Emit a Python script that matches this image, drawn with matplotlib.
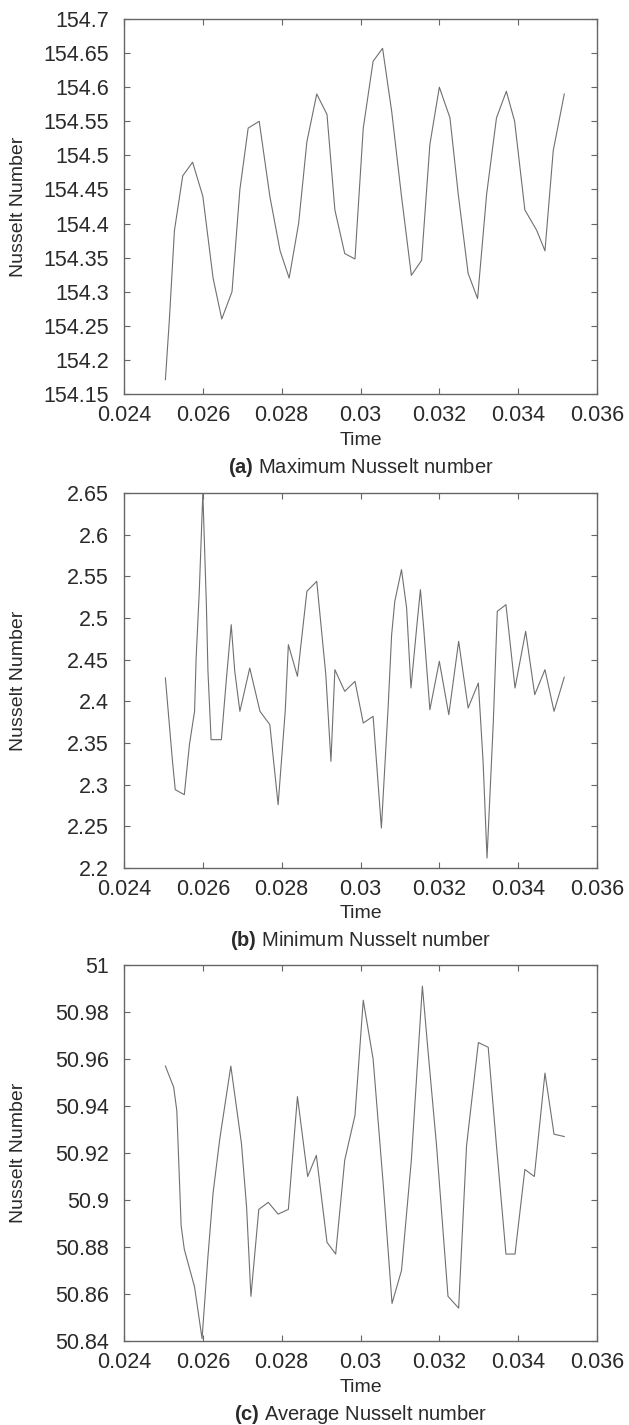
import matplotlib
matplotlib.use('Agg')
import matplotlib.pyplot as plt
from matplotlib.ticker import FuncFormatter, MultipleLocator

plt.rcParams['font.family'] = ['Liberation Sans', 'DejaVu Sans']
plt.rcParams['mathtext.fontset'] = 'custom'
plt.rcParams['mathtext.bf'] = 'Liberation Sans:bold'
plt.rcParams['mathtext.rm'] = 'Liberation Sans'

# (a) maximum Nusselt number
t_max = [0.02505, 0.02515, 0.02528, 0.02549, 0.02574, 0.02600, 0.02626, 0.02648,
         0.02674, 0.02694, 0.02715, 0.02743, 0.02770, 0.02796, 0.02819, 0.02843,
         0.02864, 0.02889, 0.02915, 0.02935, 0.02960, 0.02986, 0.03007, 0.03032,
         0.03056, 0.03079, 0.03104, 0.03129, 0.03155, 0.03176, 0.03200, 0.03227,
         0.03248, 0.03273, 0.03297, 0.03320, 0.03345, 0.03370, 0.03391, 0.03417,
         0.03447, 0.03468, 0.03489, 0.03517]
nu_max = [154.171, 154.258, 154.39, 154.47, 154.49, 154.44, 154.32, 154.26,
          154.30, 154.45, 154.54, 154.55, 154.44, 154.36, 154.32, 154.40,
          154.52, 154.59, 154.56, 154.42, 154.356, 154.348, 154.54, 154.638,
          154.657, 154.565, 154.44, 154.324, 154.346, 154.516, 154.60, 154.555,
          154.443, 154.327, 154.29, 154.443, 154.555, 154.594, 154.55, 154.42,
          154.39, 154.36, 154.507, 154.59]

# (b) minimum Nusselt number
t_min = [0.02505, 0.02510, 0.02523, 0.02530, 0.02553, 0.02566, 0.02579, 0.02583,
         0.02591, 0.02600, 0.02609, 0.02613, 0.02621, 0.02647, 0.02660, 0.02672,
         0.02681, 0.02694, 0.02719, 0.02745, 0.02770, 0.02791, 0.02809, 0.02817,
         0.02840, 0.02864, 0.02889, 0.02912, 0.02925, 0.02935, 0.02960, 0.02986,
         0.03007, 0.03032, 0.03053, 0.03070, 0.03079, 0.03087, 0.03104, 0.03117,
         0.03128, 0.03144, 0.03152, 0.03160, 0.03176, 0.03200, 0.03224, 0.03249,
         0.03273, 0.03299, 0.03311, 0.03321, 0.03337, 0.03347, 0.03369, 0.03392,
         0.03419, 0.03442, 0.03468, 0.03491, 0.03517]
nu_min = [2.428, 2.400, 2.328, 2.294, 2.288, 2.348, 2.388, 2.452,
          2.532, 2.650, 2.516, 2.436, 2.354, 2.354, 2.428, 2.492,
          2.436, 2.388, 2.440, 2.388, 2.372, 2.276, 2.388, 2.468,
          2.430, 2.532, 2.544, 2.432, 2.328, 2.438, 2.412, 2.424,
          2.374, 2.382, 2.248, 2.392, 2.480, 2.520, 2.558, 2.512,
          2.416, 2.496, 2.534, 2.490, 2.390, 2.448, 2.384, 2.472,
          2.392, 2.422, 2.328, 2.212, 2.376, 2.508, 2.516, 2.416,
          2.484, 2.408, 2.438, 2.388, 2.429]

# (c) average Nusselt number
t_avg = [0.02505, 0.02526, 0.02534, 0.02545, 0.02553, 0.02579, 0.02598, 0.02613,
         0.02626, 0.02643, 0.02671, 0.02698, 0.02711, 0.02722, 0.02742, 0.02766,
         0.02791, 0.02817, 0.02840, 0.02866, 0.02888, 0.02915, 0.02937, 0.02960,
         0.02986, 0.03007, 0.03032, 0.03058, 0.03080, 0.03104, 0.03129, 0.03157,
         0.03171, 0.03193, 0.03222, 0.03249, 0.03269, 0.03299, 0.03324, 0.03345,
         0.03369, 0.03392, 0.03417, 0.03441, 0.03468, 0.03491, 0.03517]
nu_avg = [50.957, 50.948, 50.938, 50.889, 50.879, 50.863, 50.841, 50.876,
          50.903, 50.926, 50.957, 50.924, 50.897, 50.859, 50.896, 50.899,
          50.894, 50.896, 50.944, 50.910, 50.919, 50.882, 50.877, 50.917,
          50.936, 50.985, 50.960, 50.906, 50.856, 50.870, 50.917, 50.991,
          50.964, 50.923, 50.859, 50.854, 50.923, 50.967, 50.965, 50.923,
          50.877, 50.877, 50.913, 50.910, 50.954, 50.928, 50.927]

captions = [r'$\bf{(a)}$ Maximum Nusselt number',
            r'$\bf{(b)}$ Minimum Nusselt number',
            r'$\bf{(c)}$ Average Nusselt number']
ylims = [(154.15, 154.7), (2.2, 2.65), (50.84, 51.0)]
ysteps = [0.05, 0.05, 0.02]

W, H = 629, 1425
fig = plt.figure(figsize=(W / 100, H / 100), dpi=100)

# pixel boxes of the three panels (top, bottom)
boxes = [(19, 394), (493, 868), (965, 1341)]
left, right = 124, 597
gray = '#666666'
txt = '#2a2a2a'

series = [(t_max, nu_max), (t_min, nu_min), (t_avg, nu_avg)]
for i, (tt, nu) in enumerate(series):
    top, bot = boxes[i]
    ax = fig.add_axes([left / W, 1 - bot / H, (right - left) / W, (bot - top) / H])
    ax.plot(tt, nu, color='#707070', lw=0.8)
    ax.set_xlim(0.024, 0.036)
    ax.set_ylim(*ylims[i])
    ax.xaxis.set_major_locator(MultipleLocator(0.002))
    ax.yaxis.set_major_locator(MultipleLocator(ysteps[i]))
    fmt = FuncFormatter(lambda v, p: '%g' % round(v, 6))
    ax.xaxis.set_major_formatter(fmt)
    ax.yaxis.set_major_formatter(fmt)
    ax.tick_params(direction='in', top=True, right=True, length=4, width=0.8,
                   color=gray, labelsize=15.5, labelcolor=txt)
    ax.tick_params(axis='x', pad=8)
    ax.tick_params(axis='y', pad=11)
    for s in ax.spines.values():
        s.set_color(gray)
        s.set_linewidth(1.0)
    cx = (left + right) / 2 / W
    fig.text(cx, 1 - (bot + 46) / H, 'Time', ha='center', va='center',
             fontsize=14, color=txt)
    fig.text(cx, 1 - (bot + 73) / H, captions[i], ha='center', va='center',
             fontsize=14.5, color=txt)
    fig.text(19 / W, 1 - (top + bot) / 2 / H, 'Nusselt Number', rotation=90,
             ha='center', va='center', fontsize=14, color=txt)

fig.savefig('out.png', dpi=100)
